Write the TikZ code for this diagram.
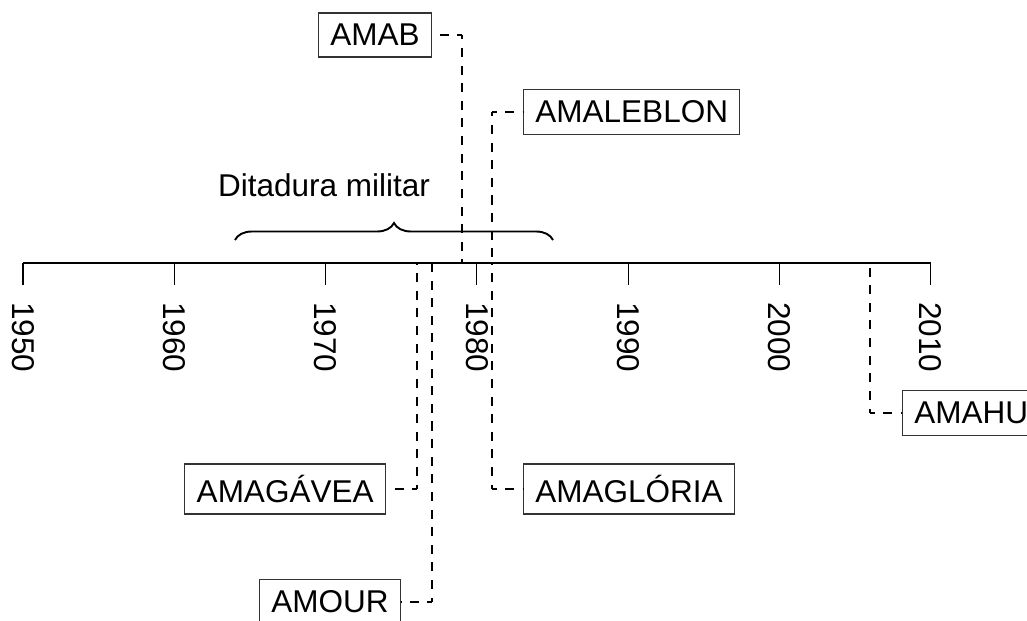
\documentclass[tikz,border=0pt]{standalone}
\usepackage{fontspec}
\setmainfont{Liberation Sans}
\usetikzlibrary{decorations.pathreplacing}
\begin{document}
\begin{tikzpicture}[x=1bp,y=-1bp,
  every node/.style={font=\fontsize{31.5bp}{36bp}\selectfont},
  labelbox/.style={draw=black!80, line width=1.1bp, inner xsep=11.9bp, inner ysep=11.2bp},
  axisline/.style={line width=1.9bp},
  tickline/.style={line width=1.1bp},
  yearlabel/.style={rotate=-90, anchor=west, inner sep=0pt},
  conn/.style={line width=2.1bp, dash pattern=on 9bp off 8.6bp, dash phase=4.5bp}
]
\useasboundingbox (0,0) rectangle (1027,621);
\begin{scope}
\clip (0,0) rectangle (1027,621);
% axis
\coordinate (a1950) at (23,263);
\coordinate (a2010) at (930.8,263);
\draw[axisline] (a1950) -- (a2010);
\foreach \yr in {1950,1960,...,2010}{
  \pgfmathsetmacro{\xx}{23+15.13*(\yr-1950)}
  \coordinate (t\yr) at (\xx,263);
  \coordinate (b\yr) at (\xx,285);
  \draw[tickline] (t\yr) -- (b\yr);
  \node[yearlabel] (l\yr) at (\xx,302) {\yr};
}
% brace
\coordinate (brL) at (235,240);
\coordinate (brR) at (553,240);
\draw[line width=1.9bp, decorate, decoration={brace, amplitude=17bp}] (brL) -- (brR);
\node[anchor=base west, inner sep=0pt] (dit) at (218,197) {Ditadura militar};
% boxes
\node[labelbox, anchor=east] (amab) at (432,35) {AMAB};
\node[labelbox, anchor=west] (amaleblon) at (523,112) {AMALEBLON};
\node[labelbox, anchor=east] (amagavea) at (386,489) {AMAGÁVEA};
\node[labelbox, anchor=east] (amour) at (401,602) {AMOUR};
\node[labelbox, anchor=west] (amagloria) at (523,489) {AMAGLÓRIA};
\node[labelbox, anchor=west] (amahu) at (902,413) {AMAHU};
% axis points and corners
\coordinate (pAB) at (461.8,263);  \coordinate (cAB) at (461.8,35);
\coordinate (pLE) at (492.0,263);  \coordinate (cLE) at (492.0,112);
\coordinate (pGV) at (416.7,263);  \coordinate (cGV) at (416.7,489);
\coordinate (pOU) at (431.8,263);  \coordinate (cOU) at (431.8,602);
\coordinate (pGL) at (492.0,263);  \coordinate (cGL) at (492.0,489);
\coordinate (pHU) at (870.3,263);  \coordinate (cHU) at (870.3,413);
% connectors
\draw[conn] (cAB) -- (pAB); \draw[conn] (cAB) -- (amab.east);
\draw[conn] (cLE) -- (pLE); \draw[conn] (cLE) -- (amaleblon.west);
\draw[conn] (cGV) -- (pGV); \draw[conn] (cGV) -- (amagavea.east);
\draw[conn] (cOU) -- (pOU); \draw[conn] (cOU) -- (amour.east);
\draw[conn] (cGL) -- (pGL); \draw[conn] (cGL) -- (amagloria.west);
\draw[conn] (cHU) -- (pHU); \draw[conn] (cHU) -- (amahu.west);
\end{scope}
\end{tikzpicture}
\end{document}
